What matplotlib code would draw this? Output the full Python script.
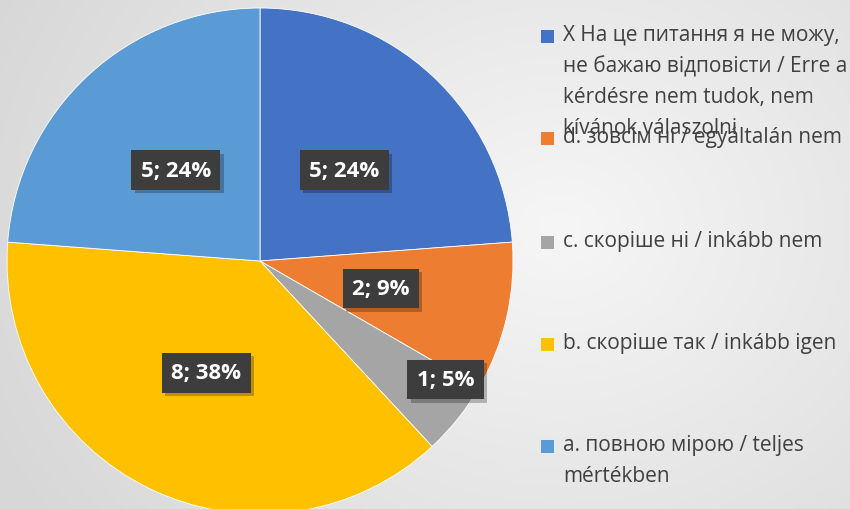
import numpy as np
import matplotlib
matplotlib.use("Agg")
import matplotlib.pyplot as plt
import matplotlib.patheffects as pe
from matplotlib.patches import Rectangle

plt.rcParams['font.family'] = ['Open Sans', 'DejaVu Sans']

# ---- data ----
categories = [
    "Х На це питання я не можу,\nне бажаю відповісти / Erre a\nkérdésre nem tudok, nem\nkívánok válaszolni",
    "d. зовсім ні / egyáltalán nem",
    "c. скоріше ні / inkább nem",
    "b. скоріше так / inkább igen",
    "a. повною мірою / teljes\nmértékben",
]
values = [5, 2, 1, 8, 5]
colors = ["#4472C4", "#ED7D31", "#A5A5A5", "#FFC000", "#5B9BD5"]

# percentages rounded so they sum to 100 (largest remainder)
total = sum(values)
raw = [100.0 * v / total for v in values]
pcts = [int(np.floor(x)) for x in raw]
order = sorted(range(len(raw)), key=lambda i: raw[i] - pcts[i], reverse=True)
for i in order[:100 - sum(pcts)]:
    pcts[i] += 1
labels_in = [f"{v}; {p}%" for v, p in zip(values, pcts)]

W, H = 850, 510
fig = plt.figure(figsize=(W / 100, H / 100), dpi=100)

# background radial gradient
bg = fig.add_axes([0, 0, 1, 1], zorder=-10)
yy, xx = np.mgrid[0:H, 0:W]
r = np.sqrt(((xx - 560) / 620.0) ** 2 + ((yy - 230) / 520.0) ** 2)
r = np.clip(r, 0, 1)
v = 0.965 - 0.12 * r
bg.imshow(np.dstack([v, v, v]), extent=[0, W, 0, H], origin='upper', aspect='auto')
bg.set_axis_off()

ax = fig.add_axes([0, 0, 1, 1])
ax.set_axis_off()
cx, cy, rad = 260, H - 262, 253

wedges, _ = ax.pie(
    values, colors=colors, startangle=90, counterclock=False,
    center=(cx, cy), radius=rad,
    wedgeprops=dict(edgecolor='white', linewidth=0.6),
)
ax.set_xlim(0, W)
ax.set_ylim(0, H)
ax.set_aspect('auto')

dists = [0.49, 0.49, 0.87, 0.49, 0.49]
offs = [0, 0, 6, 0, 0]
for w, lab, d, o in zip(wedges, labels_in, dists, offs):
    ang = np.deg2rad((w.theta1 + w.theta2) / 2 + o)
    t = ax.text(cx + d * rad * np.cos(ang), cy + d * rad * np.sin(ang), lab,
                ha='center', va='center', color='white', fontsize=16, fontweight='bold')
    t.set_bbox(dict(boxstyle='square,pad=0.42', facecolor='#3d3d3d', edgecolor='none'))
    t.get_bbox_patch().set_path_effects([
        pe.SimplePatchShadow(offset=(2.5, -2.5), shadow_rgbFace='black', alpha=0.25), pe.Normal()])

# legend (manual)
ys = [37, 139, 243, 345, 447]
for lab, col, y in zip(categories, colors, ys):
    fig.patches.append(Rectangle((541 / W, 1 - (y + 6.5) / H), 13 / W, 13 / H,
                                 transform=fig.transFigure, facecolor=col, edgecolor='none'))
    fig.text(563 / W, 1 - (y - 12) / H, lab, ha='left', va='top', fontsize=15,
             color='#404040', linespacing=1.62)

fig.savefig("out.png", dpi=100)
